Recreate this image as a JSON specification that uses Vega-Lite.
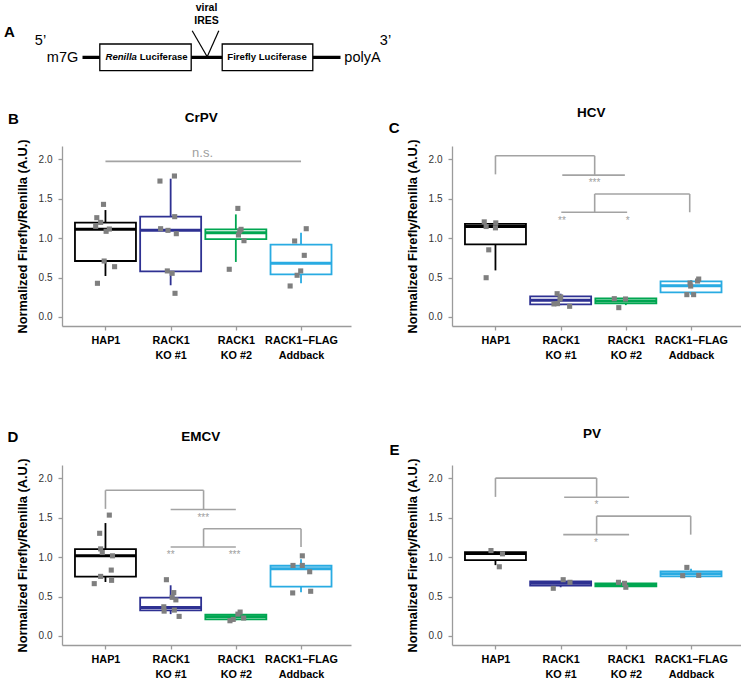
{
  "$schema": "https://vega.github.io/schema/vega-lite/v6.json",
  "padding": {"left": 4, "top": 0, "right": 0, "bottom": 0},
  "background": "white",
  "config": {
    "view": {"stroke": null},
    "font": "Liberation Sans",
    "axis": {"grid": false, "domainColor": "#9b9b9b", "tickColor": "#9b9b9b", "domainWidth": 1.3, "tickWidth": 1.3, "tickSize": 4},
    "axisY": {"labelFontSize": 10, "labelColor": "#333333", "labelPadding": 6, "titleFontSize": 12.8, "titleFontWeight": "bold", "titleColor": "#000000", "titlePadding": 9},
    "axisX": {"labelFontSize": 10.8, "labelFontWeight": "bold", "labelColor": "#000000", "labelLineHeight": 15, "labelPadding": 4}
  },
  "datasets": {
    "dg": [
      {"k": "line", "x": 78, "x2": 336, "y": 57.3, "y2": 57.3},
      {"k": "box", "x": 95.3, "x2": 186.7, "y": 44, "y2": 70.7},
      {"k": "box", "x": 217.7, "x2": 308.3, "y": 44, "y2": 70.7},
      {"k": "v", "x": 187.7, "x2": 202.7, "y": 30.7, "y2": 56.7},
      {"k": "v", "x": 214.3, "x2": 202.7, "y": 30.7, "y2": 56.7},
      {"k": "big", "x": 5, "y": 32, "t": "A"},
      {"k": "end", "x": 36, "y": 41, "t": "5’"},
      {"k": "end", "x": 58, "y": 58, "t": "m7G"},
      {"k": "end", "x": 358, "y": 57.5, "t": "polyA"},
      {"k": "end", "x": 381, "y": 41, "t": "3’"},
      {"k": "ires", "x": 202, "y": 7.5, "t": "viral"},
      {"k": "ires", "x": 202, "y": 21, "t": "IRES"},
      {"k": "it", "x": 101, "y": 57.3, "t": "Renilla"},
      {"k": "lbl", "x": 135.2, "y": 57.3, "t": "Luciferase"},
      {"k": "lbl2", "x": 262.5, "y": 57.3, "t": "Firefly Luciferase"}
    ],
    "d": [
      {"k": "h", "panel": "B", "x": 2.47, "y": 2.525, "t": "CrPV"},
      {"k": "h", "panel": "C", "x": 2.47, "y": 2.589, "t": "HCV"},
      {"k": "h", "panel": "D", "x": 2.46, "y": 2.529, "t": "EMCV"},
      {"k": "h", "panel": "E", "x": 2.48, "y": 2.561, "t": "PV"},
      {"k": "l", "panel": "B", "x": -0.413, "y": 2.51, "t": "B"},
      {"k": "l", "panel": "C", "x": -0.553, "y": 2.4, "t": "C"},
      {"k": "l", "panel": "D", "x": -0.42, "y": 2.53, "t": "D"},
      {"k": "l", "panel": "E", "x": -0.55, "y": 2.36, "t": "E"},

      {"k": "b", "panel": "B", "gi": 1, "lo": 0.52, "q1": 0.71, "med": 1.112, "q3": 1.197, "hi": 1.357},
      {"k": "b", "panel": "B", "gi": 2, "lo": 0.402, "q1": 0.579, "med": 1.099, "q3": 1.273, "hi": 1.755},
      {"k": "b", "panel": "B", "gi": 3, "lo": 0.698, "q1": 0.989, "med": 1.07, "q3": 1.112, "hi": 1.302},
      {"k": "b", "panel": "B", "gi": 4, "lo": 0.427, "q1": 0.541, "med": 0.681, "q3": 0.918, "hi": 1.07},
      {"k": "b", "panel": "C", "gi": 1, "lo": 0.591, "q1": 0.92, "med": 1.148, "q3": 1.181, "hi": 1.19},
      {"k": "b", "panel": "C", "gi": 2, "lo": 0.15, "q1": 0.16, "med": 0.211, "q3": 0.262, "hi": 0.295},
      {"k": "b", "panel": "C", "gi": 3, "lo": 0.15, "q1": 0.173, "med": 0.203, "q3": 0.236, "hi": 0.236},
      {"k": "b", "panel": "C", "gi": 4, "lo": 0.283, "q1": 0.312, "med": 0.397, "q3": 0.451, "hi": 0.47},
      {"k": "b", "panel": "D", "gi": 1, "lo": 0.685, "q1": 0.752, "med": 1.017, "q3": 1.101, "hi": 1.433},
      {"k": "b", "panel": "D", "gi": 2, "lo": 0.277, "q1": 0.324, "med": 0.361, "q3": 0.487, "hi": 0.643},
      {"k": "b", "panel": "D", "gi": 3, "lo": 0.2, "q1": 0.21, "med": 0.244, "q3": 0.269, "hi": 0.28},
      {"k": "b", "panel": "D", "gi": 4, "lo": 0.555, "q1": 0.626, "med": 0.853, "q3": 0.891, "hi": 0.975},
      {"k": "b", "panel": "E", "gi": 1, "lo": 0.899, "q1": 0.962, "med": 1.046, "q3": 1.063, "hi": 1.07},
      {"k": "b", "panel": "E", "gi": 2, "lo": 0.618, "q1": 0.639, "med": 0.668, "q3": 0.693, "hi": 0.693},
      {"k": "b", "panel": "E", "gi": 3, "lo": 0.63, "q1": 0.63, "med": 0.651, "q3": 0.668, "hi": 0.668},
      {"k": "b", "panel": "E", "gi": 4, "lo": 0.756, "q1": 0.756, "med": 0.79, "q3": 0.819, "hi": 0.853},

      {"k": "p", "panel": "B", "gi": 1, "jx": 0.97, "v": 1.429},
      {"k": "p", "panel": "B", "gi": 1, "jx": 0.867, "v": 1.26},
      {"k": "p", "panel": "B", "gi": 1, "jx": 0.926, "v": 1.2},
      {"k": "p", "panel": "B", "gi": 1, "jx": 0.85, "v": 1.15},
      {"k": "p", "panel": "B", "gi": 1, "jx": 1.06, "v": 1.116},
      {"k": "p", "panel": "B", "gi": 1, "jx": 1.01, "v": 1.087},
      {"k": "p", "panel": "B", "gi": 1, "jx": 0.98, "v": 0.71},
      {"k": "p", "panel": "B", "gi": 1, "jx": 1.14, "v": 0.638},
      {"k": "p", "panel": "B", "gi": 1, "jx": 0.877, "v": 0.427},
      {"k": "p", "panel": "B", "gi": 2, "jx": 1.836, "v": 1.725},
      {"k": "p", "panel": "B", "gi": 2, "jx": 2.058, "v": 1.789},
      {"k": "p", "panel": "B", "gi": 2, "jx": 2.062, "v": 1.273},
      {"k": "p", "panel": "B", "gi": 2, "jx": 1.846, "v": 1.12},
      {"k": "p", "panel": "B", "gi": 2, "jx": 1.959, "v": 1.099},
      {"k": "p", "panel": "B", "gi": 2, "jx": 2.087, "v": 1.057},
      {"k": "p", "panel": "B", "gi": 2, "jx": 1.949, "v": 0.584},
      {"k": "p", "panel": "B", "gi": 2, "jx": 2.023, "v": 0.554},
      {"k": "p", "panel": "B", "gi": 2, "jx": 2.067, "v": 0.3},
      {"k": "p", "panel": "B", "gi": 3, "jx": 3.031, "v": 1.378},
      {"k": "p", "panel": "B", "gi": 3, "jx": 3.08, "v": 1.112},
      {"k": "p", "panel": "B", "gi": 3, "jx": 3.06, "v": 1.091},
      {"k": "p", "panel": "B", "gi": 3, "jx": 3.04, "v": 1.04},
      {"k": "p", "panel": "B", "gi": 3, "jx": 3.125, "v": 0.968},
      {"k": "p", "panel": "B", "gi": 3, "jx": 2.899, "v": 0.605},
      {"k": "p", "panel": "B", "gi": 4, "jx": 4.08, "v": 1.12},
      {"k": "p", "panel": "B", "gi": 4, "jx": 3.902, "v": 0.964},
      {"k": "p", "panel": "B", "gi": 4, "jx": 4.05, "v": 0.782},
      {"k": "p", "panel": "B", "gi": 4, "jx": 3.995, "v": 0.584},
      {"k": "p", "panel": "B", "gi": 4, "jx": 3.94, "v": 0.529},
      {"k": "p", "panel": "B", "gi": 4, "jx": 3.833, "v": 0.393},

      {"k": "p", "panel": "C", "gi": 1, "jx": 0.828, "v": 1.207},
      {"k": "p", "panel": "C", "gi": 1, "jx": 0.857, "v": 1.148},
      {"k": "p", "panel": "C", "gi": 1, "jx": 1.005, "v": 1.194},
      {"k": "p", "panel": "C", "gi": 1, "jx": 1.0, "v": 1.131},
      {"k": "p", "panel": "C", "gi": 1, "jx": 0.897, "v": 0.852},
      {"k": "p", "panel": "C", "gi": 1, "jx": 0.857, "v": 0.498},
      {"k": "p", "panel": "C", "gi": 2, "jx": 1.946, "v": 0.295},
      {"k": "p", "panel": "C", "gi": 2, "jx": 1.99, "v": 0.228},
      {"k": "p", "panel": "C", "gi": 2, "jx": 2.0, "v": 0.255},
      {"k": "p", "panel": "C", "gi": 2, "jx": 1.897, "v": 0.165},
      {"k": "p", "panel": "C", "gi": 2, "jx": 1.951, "v": 0.169},
      {"k": "p", "panel": "C", "gi": 2, "jx": 2.138, "v": 0.135},
      {"k": "p", "panel": "C", "gi": 3, "jx": 2.823, "v": 0.232},
      {"k": "p", "panel": "C", "gi": 3, "jx": 2.995, "v": 0.228},
      {"k": "p", "panel": "C", "gi": 3, "jx": 2.892, "v": 0.118},
      {"k": "p", "panel": "C", "gi": 4, "jx": 4.118, "v": 0.481},
      {"k": "p", "panel": "C", "gi": 4, "jx": 4.1, "v": 0.456},
      {"k": "p", "panel": "C", "gi": 4, "jx": 3.985, "v": 0.43},
      {"k": "p", "panel": "C", "gi": 4, "jx": 3.995, "v": 0.392},
      {"k": "p", "panel": "C", "gi": 4, "jx": 3.936, "v": 0.283},
      {"k": "p", "panel": "C", "gi": 4, "jx": 4.04, "v": 0.283},

      {"k": "p", "panel": "D", "gi": 1, "jx": 1.059, "v": 1.534},
      {"k": "p", "panel": "D", "gi": 1, "jx": 0.911, "v": 1.303},
      {"k": "p", "panel": "D", "gi": 1, "jx": 0.926, "v": 1.105},
      {"k": "p", "panel": "D", "gi": 1, "jx": 0.951, "v": 1.059},
      {"k": "p", "panel": "D", "gi": 1, "jx": 1.108, "v": 1.017},
      {"k": "p", "panel": "D", "gi": 1, "jx": 1.089, "v": 0.836},
      {"k": "p", "panel": "D", "gi": 1, "jx": 0.926, "v": 0.756},
      {"k": "p", "panel": "D", "gi": 1, "jx": 1.094, "v": 0.706},
      {"k": "p", "panel": "D", "gi": 1, "jx": 0.828, "v": 0.664},
      {"k": "p", "panel": "D", "gi": 2, "jx": 1.935, "v": 0.714},
      {"k": "p", "panel": "D", "gi": 2, "jx": 2.048, "v": 0.55},
      {"k": "p", "panel": "D", "gi": 2, "jx": 2.024, "v": 0.49},
      {"k": "p", "panel": "D", "gi": 2, "jx": 2.08, "v": 0.458},
      {"k": "p", "panel": "D", "gi": 2, "jx": 1.895, "v": 0.37},
      {"k": "p", "panel": "D", "gi": 2, "jx": 1.9, "v": 0.315},
      {"k": "p", "panel": "D", "gi": 2, "jx": 2.057, "v": 0.328},
      {"k": "p", "panel": "D", "gi": 2, "jx": 2.13, "v": 0.248},
      {"k": "p", "panel": "D", "gi": 3, "jx": 3.066, "v": 0.303},
      {"k": "p", "panel": "D", "gi": 3, "jx": 3.032, "v": 0.277},
      {"k": "p", "panel": "D", "gi": 3, "jx": 3.12, "v": 0.227},
      {"k": "p", "panel": "D", "gi": 3, "jx": 2.96, "v": 0.21},
      {"k": "p", "panel": "D", "gi": 3, "jx": 2.91, "v": 0.193},
      {"k": "p", "panel": "D", "gi": 4, "jx": 4.02, "v": 1.017},
      {"k": "p", "panel": "D", "gi": 4, "jx": 3.877, "v": 0.895},
      {"k": "p", "panel": "D", "gi": 4, "jx": 4.02, "v": 0.895},
      {"k": "p", "panel": "D", "gi": 4, "jx": 4.133, "v": 0.815},
      {"k": "p", "panel": "D", "gi": 4, "jx": 3.872, "v": 0.546},
      {"k": "p", "panel": "D", "gi": 4, "jx": 4.148, "v": 0.567},

      {"k": "p", "panel": "E", "gi": 1, "jx": 0.931, "v": 1.084},
      {"k": "p", "panel": "E", "gi": 1, "jx": 1.108, "v": 1.042},
      {"k": "p", "panel": "E", "gi": 1, "jx": 1.059, "v": 0.878},
      {"k": "p", "panel": "E", "gi": 2, "jx": 2.039, "v": 0.714},
      {"k": "p", "panel": "E", "gi": 2, "jx": 2.143, "v": 0.681},
      {"k": "p", "panel": "E", "gi": 2, "jx": 1.887, "v": 0.605},
      {"k": "p", "panel": "E", "gi": 3, "jx": 2.887, "v": 0.681},
      {"k": "p", "panel": "E", "gi": 3, "jx": 2.98, "v": 0.668},
      {"k": "p", "panel": "E", "gi": 3, "jx": 3.0, "v": 0.618},
      {"k": "p", "panel": "E", "gi": 4, "jx": 3.936, "v": 0.87},
      {"k": "p", "panel": "E", "gi": 4, "jx": 3.872, "v": 0.765},
      {"k": "p", "panel": "E", "gi": 4, "jx": 4.118, "v": 0.769},

      {"k": "s", "panel": "B", "x": 1, "x2": 4, "y": 1.975, "y2": 1.975},
      {"k": "s", "panel": "C", "x": 1, "x2": 1, "y": 1.81, "y2": 2.046},
      {"k": "s", "panel": "C", "x": 1, "x2": 2.522, "y": 2.046, "y2": 2.046},
      {"k": "s", "panel": "C", "x": 2.522, "x2": 2.522, "y": 2.046, "y2": 1.8},
      {"k": "s", "panel": "C", "x": 2.025, "x2": 2.985, "y": 1.8, "y2": 1.8},
      {"k": "s", "panel": "C", "x": 2.522, "x2": 3.98, "y": 1.561, "y2": 1.561},
      {"k": "s", "panel": "C", "x": 2.522, "x2": 2.522, "y": 1.561, "y2": 1.329},
      {"k": "s", "panel": "C", "x": 3.98, "x2": 3.98, "y": 1.561, "y2": 1.329},
      {"k": "s", "panel": "C", "x": 2.01, "x2": 3.02, "y": 1.329, "y2": 1.329},
      {"k": "s", "panel": "D", "x": 1, "x2": 1, "y": 1.613, "y2": 1.849},
      {"k": "s", "panel": "D", "x": 1, "x2": 2.505, "y": 1.849, "y2": 1.849},
      {"k": "s", "panel": "D", "x": 2.505, "x2": 2.505, "y": 1.849, "y2": 1.605},
      {"k": "s", "panel": "D", "x": 2.0, "x2": 3.0, "y": 1.605, "y2": 1.605},
      {"k": "s", "panel": "D", "x": 2.505, "x2": 4.0, "y": 1.361, "y2": 1.361},
      {"k": "s", "panel": "D", "x": 2.505, "x2": 2.505, "y": 1.361, "y2": 1.13},
      {"k": "s", "panel": "D", "x": 4.0, "x2": 4.0, "y": 1.361, "y2": 1.13},
      {"k": "s", "panel": "D", "x": 2.0, "x2": 3.0, "y": 1.13, "y2": 1.13},
      {"k": "s", "panel": "E", "x": 1, "x2": 1, "y": 1.765, "y2": 2.004},
      {"k": "s", "panel": "E", "x": 1, "x2": 2.552, "y": 2.004, "y2": 2.004},
      {"k": "s", "panel": "E", "x": 2.552, "x2": 2.552, "y": 2.004, "y2": 1.76},
      {"k": "s", "panel": "E", "x": 2.054, "x2": 3.05, "y": 1.76, "y2": 1.76},
      {"k": "s", "panel": "E", "x": 2.552, "x2": 3.995, "y": 1.521, "y2": 1.521},
      {"k": "s", "panel": "E", "x": 2.552, "x2": 2.552, "y": 1.521, "y2": 1.286},
      {"k": "s", "panel": "E", "x": 3.995, "x2": 3.995, "y": 1.521, "y2": 1.286},
      {"k": "s", "panel": "E", "x": 2.04, "x2": 3.05, "y": 1.286, "y2": 1.286},

      {"k": "n", "panel": "B", "x": 2.49, "y": 2.075, "t": "n.s."},
      {"k": "t", "panel": "C", "x": 2.52, "y": 1.695, "t": "***"},
      {"k": "t", "panel": "C", "x": 2.02, "y": 1.222, "t": "**"},
      {"k": "t", "panel": "C", "x": 3.03, "y": 1.222, "t": "*"},
      {"k": "t", "panel": "D", "x": 2.5, "y": 1.495, "t": "***"},
      {"k": "t", "panel": "D", "x": 2.0, "y": 1.024, "t": "**"},
      {"k": "t", "panel": "D", "x": 2.98, "y": 1.024, "t": "***"},
      {"k": "t", "panel": "E", "x": 2.55, "y": 1.658, "t": "*"},
      {"k": "t", "panel": "E", "x": 2.54, "y": 1.183, "t": "*"}
    ]
  },
  "spacing": 30,
  "vconcat": [
    {
      "width": 400,
      "height": 75,
      "data": {"name": "dg"},
      "encoding": {
        "x": {"field": "x", "type": "quantitative", "scale": {"domain": [57.5, 457.5], "nice": false, "zero": false}, "axis": null},
        "y": {"field": "y", "type": "quantitative", "scale": {"domain": [0, 75], "reverse": true, "nice": false, "zero": false}, "axis": null}
      },
      "layer": [
        {"transform": [{"filter": "datum.k == 'line'"}], "mark": {"type": "rule", "strokeWidth": 3.2, "color": "#000000"}, "encoding": {"x2": {"field": "x2"}, "y2": {"field": "y2"}}},
        {"transform": [{"filter": "datum.k == 'box'"}], "mark": {"type": "rect", "fill": "white", "stroke": "#000000", "strokeWidth": 1.3}, "encoding": {"x2": {"field": "x2"}, "y2": {"field": "y2"}}},
        {"transform": [{"filter": "datum.k == 'v'"}], "mark": {"type": "rule", "strokeWidth": 1.2, "color": "#000000"}, "encoding": {"x2": {"field": "x2"}, "y2": {"field": "y2"}}},
        {"transform": [{"filter": "datum.k == 'big'"}], "mark": {"type": "text", "fontSize": 15, "fontWeight": "bold", "color": "#000000", "baseline": "middle"}, "encoding": {"text": {"field": "t"}}},
        {"transform": [{"filter": "datum.k == 'end'"}], "mark": {"type": "text", "fontSize": 14.5, "color": "#000000", "baseline": "middle"}, "encoding": {"text": {"field": "t"}}},
        {"transform": [{"filter": "datum.k == 'ires'"}], "mark": {"type": "text", "fontSize": 10.5, "fontWeight": "bold", "color": "#000000", "baseline": "middle"}, "encoding": {"text": {"field": "t"}}},
        {"transform": [{"filter": "datum.k == 'it'"}], "mark": {"type": "text", "fontSize": 9.6, "fontWeight": "bold", "fontStyle": "italic", "align": "left", "color": "#000000", "baseline": "middle"}, "encoding": {"text": {"field": "t"}}},
        {"transform": [{"filter": "datum.k == 'lbl'"}], "mark": {"type": "text", "fontSize": 9.6, "fontWeight": "bold", "align": "left", "color": "#000000", "baseline": "middle"}, "encoding": {"text": {"field": "t"}}},
        {"transform": [{"filter": "datum.k == 'lbl2'"}], "mark": {"type": "text", "fontSize": 9.6, "fontWeight": "bold", "align": "center", "color": "#000000", "baseline": "middle"}, "encoding": {"text": {"field": "t"}}}
      ]
    },
    {
      "data": {"name": "d"},
      "columns": 2,
      "spacing": {"row": 67, "column": 37},
      "concat": [
        {
          "width": 289, "height": 180,
          "transform": [{"filter": "datum.panel == 'B'"}],
          "layer": [
            {"transform": [{"filter": "datum.k == 'b'"}], "mark": {"type": "rule", "strokeWidth": 1.8},
             "encoding": {
               "x": {"field": "gi", "type": "quantitative", "title": null, "scale": {"domain": [0.41, 4.69], "nice": false, "zero": false},
                     "axis": {"values": [1, 2, 3, 4], "labelOverlap": false, "labelFlush": false, "labelExpr": "datum.value == 1 ? 'HAP1' : datum.value == 2 ? ['RACK1', 'KO #1'] : datum.value == 3 ? ['RACK1', 'KO #2'] : ['RACK1−FLAG', 'Addback']"}},
               "y": {"field": "lo", "type": "quantitative", "title": "Normalized Firefly/Renilla (A.U.)", "scale": {"domain": [-0.115, 2.17], "nice": false, "zero": false}, "axis": {"values": [0, 0.5, 1, 1.5, 2], "format": ".1f"}},
               "y2": {"field": "hi"},
               "stroke": {"field": "gi", "type": "nominal", "scale": {"domain": [1, 2, 3, 4], "range": ["#000000", "#2E3192", "#00A651", "#29ABE2"]}, "legend": null}}},
            {"transform": [{"filter": "datum.k == 'b'"}], "mark": {"type": "bar", "width": 61, "fill": "white", "strokeWidth": 1.8},
             "encoding": {"x": {"field": "gi", "type": "quantitative", "title": null}, "y": {"field": "q1", "type": "quantitative", "title": "Normalized Firefly/Renilla (A.U.)"}, "y2": {"field": "q3"}, "stroke": {"field": "gi", "type": "nominal", "legend": null}}},
            {"transform": [{"filter": "datum.k == 'b'"}], "mark": {"type": "bar", "width": 61, "fill": null, "fillOpacity": 0, "strokeWidth": 3},
             "encoding": {"x": {"field": "gi", "type": "quantitative", "title": null}, "y": {"field": "med", "type": "quantitative", "title": "Normalized Firefly/Renilla (A.U.)"}, "y2": {"field": "med"}, "stroke": {"field": "gi", "type": "nominal", "legend": null}}},
            {"transform": [{"filter": "datum.k == 'p'"}], "mark": {"type": "square", "size": 26, "color": "#7f7f7f", "opacity": 1},
             "encoding": {"x": {"field": "jx", "type": "quantitative", "title": null}, "y": {"field": "v", "type": "quantitative", "title": "Normalized Firefly/Renilla (A.U.)"}}},
            {"transform": [{"filter": "datum.k == 's'"}], "mark": {"type": "rule", "strokeWidth": 1.6, "color": "#a3a3a3"},
             "encoding": {"x": {"field": "x", "type": "quantitative", "title": null}, "x2": {"field": "x2"}, "y": {"field": "y", "type": "quantitative", "title": "Normalized Firefly/Renilla (A.U.)"}, "y2": {"field": "y2"}}},
            {"transform": [{"filter": "datum.k == 'n'"}], "mark": {"type": "text", "fontSize": 13, "color": "#a0a0a0", "baseline": "middle"},
             "encoding": {"x": {"field": "x", "type": "quantitative", "title": null}, "y": {"field": "y", "type": "quantitative", "title": "Normalized Firefly/Renilla (A.U.)"}, "text": {"field": "t"}}},
            {"transform": [{"filter": "datum.k == 'h'"}], "mark": {"type": "text", "fontSize": 13.5, "fontWeight": "bold", "color": "#000000", "baseline": "middle"},
             "encoding": {"x": {"field": "x", "type": "quantitative", "title": null}, "y": {"field": "y", "type": "quantitative", "title": "Normalized Firefly/Renilla (A.U.)"}, "text": {"field": "t"}}},
            {"transform": [{"filter": "datum.k == 'l'"}], "mark": {"type": "text", "fontSize": 15, "fontWeight": "bold", "color": "#000000", "baseline": "middle"},
             "encoding": {"x": {"field": "x", "type": "quantitative", "title": null}, "y": {"field": "y", "type": "quantitative", "title": "Normalized Firefly/Renilla (A.U.)"}, "text": {"field": "t"}}}
          ]
        },
        {
          "width": 289, "height": 180,
          "transform": [{"filter": "datum.panel == 'C'"}],
          "layer": [
            {"transform": [{"filter": "datum.k == 'b'"}], "mark": {"type": "rule", "strokeWidth": 1.8},
             "encoding": {
               "x": {"field": "gi", "type": "quantitative", "title": null, "scale": {"domain": [0.41, 4.69], "nice": false, "zero": false},
                     "axis": {"values": [1, 2, 3, 4], "labelOverlap": false, "labelFlush": false, "labelExpr": "datum.value == 1 ? 'HAP1' : datum.value == 2 ? ['RACK1', 'KO #1'] : datum.value == 3 ? ['RACK1', 'KO #2'] : ['RACK1−FLAG', 'Addback']"}},
               "y": {"field": "lo", "type": "quantitative", "title": "Normalized Firefly/Renilla (A.U.)", "scale": {"domain": [-0.115, 2.17], "nice": false, "zero": false}, "axis": {"values": [0, 0.5, 1, 1.5, 2], "format": ".1f"}},
               "y2": {"field": "hi"},
               "stroke": {"field": "gi", "type": "nominal", "scale": {"domain": [1, 2, 3, 4], "range": ["#000000", "#2E3192", "#00A651", "#29ABE2"]}, "legend": null}}},
            {"transform": [{"filter": "datum.k == 'b'"}], "mark": {"type": "bar", "width": 61, "fill": "white", "strokeWidth": 1.8},
             "encoding": {"x": {"field": "gi", "type": "quantitative", "title": null}, "y": {"field": "q1", "type": "quantitative", "title": "Normalized Firefly/Renilla (A.U.)"}, "y2": {"field": "q3"}, "stroke": {"field": "gi", "type": "nominal", "legend": null}}},
            {"transform": [{"filter": "datum.k == 'b'"}], "mark": {"type": "bar", "width": 61, "fill": null, "fillOpacity": 0, "strokeWidth": 3},
             "encoding": {"x": {"field": "gi", "type": "quantitative", "title": null}, "y": {"field": "med", "type": "quantitative", "title": "Normalized Firefly/Renilla (A.U.)"}, "y2": {"field": "med"}, "stroke": {"field": "gi", "type": "nominal", "legend": null}}},
            {"transform": [{"filter": "datum.k == 'p'"}], "mark": {"type": "square", "size": 26, "color": "#7f7f7f", "opacity": 1},
             "encoding": {"x": {"field": "jx", "type": "quantitative", "title": null}, "y": {"field": "v", "type": "quantitative", "title": "Normalized Firefly/Renilla (A.U.)"}}},
            {"transform": [{"filter": "datum.k == 's'"}], "mark": {"type": "rule", "strokeWidth": 1.6, "color": "#a3a3a3"},
             "encoding": {"x": {"field": "x", "type": "quantitative", "title": null}, "x2": {"field": "x2"}, "y": {"field": "y", "type": "quantitative", "title": "Normalized Firefly/Renilla (A.U.)"}, "y2": {"field": "y2"}}},
            {"transform": [{"filter": "datum.k == 't'"}], "mark": {"type": "text", "fontSize": 10, "color": "#a0a0a0", "baseline": "middle"},
             "encoding": {"x": {"field": "x", "type": "quantitative", "title": null}, "y": {"field": "y", "type": "quantitative", "title": "Normalized Firefly/Renilla (A.U.)"}, "text": {"field": "t"}}},
            {"transform": [{"filter": "datum.k == 'h'"}], "mark": {"type": "text", "fontSize": 13.5, "fontWeight": "bold", "color": "#000000", "baseline": "middle"},
             "encoding": {"x": {"field": "x", "type": "quantitative", "title": null}, "y": {"field": "y", "type": "quantitative", "title": "Normalized Firefly/Renilla (A.U.)"}, "text": {"field": "t"}}},
            {"transform": [{"filter": "datum.k == 'l'"}], "mark": {"type": "text", "fontSize": 15, "fontWeight": "bold", "color": "#000000", "baseline": "middle"},
             "encoding": {"x": {"field": "x", "type": "quantitative", "title": null}, "y": {"field": "y", "type": "quantitative", "title": "Normalized Firefly/Renilla (A.U.)"}, "text": {"field": "t"}}}
          ]
        },
        {
          "width": 289, "height": 180,
          "transform": [{"filter": "datum.panel == 'D'"}],
          "layer": [
            {"transform": [{"filter": "datum.k == 'b'"}], "mark": {"type": "rule", "strokeWidth": 1.8},
             "encoding": {
               "x": {"field": "gi", "type": "quantitative", "title": null, "scale": {"domain": [0.41, 4.69], "nice": false, "zero": false},
                     "axis": {"values": [1, 2, 3, 4], "labelOverlap": false, "labelFlush": false, "labelExpr": "datum.value == 1 ? 'HAP1' : datum.value == 2 ? ['RACK1', 'KO #1'] : datum.value == 3 ? ['RACK1', 'KO #2'] : ['RACK1−FLAG', 'Addback']"}},
               "y": {"field": "lo", "type": "quantitative", "title": "Normalized Firefly/Renilla (A.U.)", "scale": {"domain": [-0.115, 2.17], "nice": false, "zero": false}, "axis": {"values": [0, 0.5, 1, 1.5, 2], "format": ".1f"}},
               "y2": {"field": "hi"},
               "stroke": {"field": "gi", "type": "nominal", "scale": {"domain": [1, 2, 3, 4], "range": ["#000000", "#2E3192", "#00A651", "#29ABE2"]}, "legend": null}}},
            {"transform": [{"filter": "datum.k == 'b'"}], "mark": {"type": "bar", "width": 61, "fill": "white", "strokeWidth": 1.8},
             "encoding": {"x": {"field": "gi", "type": "quantitative", "title": null}, "y": {"field": "q1", "type": "quantitative", "title": "Normalized Firefly/Renilla (A.U.)"}, "y2": {"field": "q3"}, "stroke": {"field": "gi", "type": "nominal", "legend": null}}},
            {"transform": [{"filter": "datum.k == 'b'"}], "mark": {"type": "bar", "width": 61, "fill": null, "fillOpacity": 0, "strokeWidth": 3},
             "encoding": {"x": {"field": "gi", "type": "quantitative", "title": null}, "y": {"field": "med", "type": "quantitative", "title": "Normalized Firefly/Renilla (A.U.)"}, "y2": {"field": "med"}, "stroke": {"field": "gi", "type": "nominal", "legend": null}}},
            {"transform": [{"filter": "datum.k == 'p'"}], "mark": {"type": "square", "size": 26, "color": "#7f7f7f", "opacity": 1},
             "encoding": {"x": {"field": "jx", "type": "quantitative", "title": null}, "y": {"field": "v", "type": "quantitative", "title": "Normalized Firefly/Renilla (A.U.)"}}},
            {"transform": [{"filter": "datum.k == 's'"}], "mark": {"type": "rule", "strokeWidth": 1.6, "color": "#a3a3a3"},
             "encoding": {"x": {"field": "x", "type": "quantitative", "title": null}, "x2": {"field": "x2"}, "y": {"field": "y", "type": "quantitative", "title": "Normalized Firefly/Renilla (A.U.)"}, "y2": {"field": "y2"}}},
            {"transform": [{"filter": "datum.k == 't'"}], "mark": {"type": "text", "fontSize": 10, "color": "#a0a0a0", "baseline": "middle"},
             "encoding": {"x": {"field": "x", "type": "quantitative", "title": null}, "y": {"field": "y", "type": "quantitative", "title": "Normalized Firefly/Renilla (A.U.)"}, "text": {"field": "t"}}},
            {"transform": [{"filter": "datum.k == 'h'"}], "mark": {"type": "text", "fontSize": 13.5, "fontWeight": "bold", "color": "#000000", "baseline": "middle"},
             "encoding": {"x": {"field": "x", "type": "quantitative", "title": null}, "y": {"field": "y", "type": "quantitative", "title": "Normalized Firefly/Renilla (A.U.)"}, "text": {"field": "t"}}},
            {"transform": [{"filter": "datum.k == 'l'"}], "mark": {"type": "text", "fontSize": 15, "fontWeight": "bold", "color": "#000000", "baseline": "middle"},
             "encoding": {"x": {"field": "x", "type": "quantitative", "title": null}, "y": {"field": "y", "type": "quantitative", "title": "Normalized Firefly/Renilla (A.U.)"}, "text": {"field": "t"}}}
          ]
        },
        {
          "width": 289, "height": 180,
          "transform": [{"filter": "datum.panel == 'E'"}],
          "layer": [
            {"transform": [{"filter": "datum.k == 'b'"}], "mark": {"type": "rule", "strokeWidth": 1.8},
             "encoding": {
               "x": {"field": "gi", "type": "quantitative", "title": null, "scale": {"domain": [0.41, 4.69], "nice": false, "zero": false},
                     "axis": {"values": [1, 2, 3, 4], "labelOverlap": false, "labelFlush": false, "labelExpr": "datum.value == 1 ? 'HAP1' : datum.value == 2 ? ['RACK1', 'KO #1'] : datum.value == 3 ? ['RACK1', 'KO #2'] : ['RACK1−FLAG', 'Addback']"}},
               "y": {"field": "lo", "type": "quantitative", "title": "Normalized Firefly/Renilla (A.U.)", "scale": {"domain": [-0.115, 2.17], "nice": false, "zero": false}, "axis": {"values": [0, 0.5, 1, 1.5, 2], "format": ".1f"}},
               "y2": {"field": "hi"},
               "stroke": {"field": "gi", "type": "nominal", "scale": {"domain": [1, 2, 3, 4], "range": ["#000000", "#2E3192", "#00A651", "#29ABE2"]}, "legend": null}}},
            {"transform": [{"filter": "datum.k == 'b'"}], "mark": {"type": "bar", "width": 61, "fill": "white", "strokeWidth": 1.8},
             "encoding": {"x": {"field": "gi", "type": "quantitative", "title": null}, "y": {"field": "q1", "type": "quantitative", "title": "Normalized Firefly/Renilla (A.U.)"}, "y2": {"field": "q3"}, "stroke": {"field": "gi", "type": "nominal", "legend": null}}},
            {"transform": [{"filter": "datum.k == 'b'"}], "mark": {"type": "bar", "width": 61, "fill": null, "fillOpacity": 0, "strokeWidth": 3},
             "encoding": {"x": {"field": "gi", "type": "quantitative", "title": null}, "y": {"field": "med", "type": "quantitative", "title": "Normalized Firefly/Renilla (A.U.)"}, "y2": {"field": "med"}, "stroke": {"field": "gi", "type": "nominal", "legend": null}}},
            {"transform": [{"filter": "datum.k == 'p'"}], "mark": {"type": "square", "size": 26, "color": "#7f7f7f", "opacity": 1},
             "encoding": {"x": {"field": "jx", "type": "quantitative", "title": null}, "y": {"field": "v", "type": "quantitative", "title": "Normalized Firefly/Renilla (A.U.)"}}},
            {"transform": [{"filter": "datum.k == 's'"}], "mark": {"type": "rule", "strokeWidth": 1.6, "color": "#a3a3a3"},
             "encoding": {"x": {"field": "x", "type": "quantitative", "title": null}, "x2": {"field": "x2"}, "y": {"field": "y", "type": "quantitative", "title": "Normalized Firefly/Renilla (A.U.)"}, "y2": {"field": "y2"}}},
            {"transform": [{"filter": "datum.k == 't'"}], "mark": {"type": "text", "fontSize": 10, "color": "#a0a0a0", "baseline": "middle"},
             "encoding": {"x": {"field": "x", "type": "quantitative", "title": null}, "y": {"field": "y", "type": "quantitative", "title": "Normalized Firefly/Renilla (A.U.)"}, "text": {"field": "t"}}},
            {"transform": [{"filter": "datum.k == 'h'"}], "mark": {"type": "text", "fontSize": 13.5, "fontWeight": "bold", "color": "#000000", "baseline": "middle"},
             "encoding": {"x": {"field": "x", "type": "quantitative", "title": null}, "y": {"field": "y", "type": "quantitative", "title": "Normalized Firefly/Renilla (A.U.)"}, "text": {"field": "t"}}},
            {"transform": [{"filter": "datum.k == 'l'"}], "mark": {"type": "text", "fontSize": 15, "fontWeight": "bold", "color": "#000000", "baseline": "middle"},
             "encoding": {"x": {"field": "x", "type": "quantitative", "title": null}, "y": {"field": "y", "type": "quantitative", "title": "Normalized Firefly/Renilla (A.U.)"}, "text": {"field": "t"}}}
          ]
        }
      ]
    }
  ]
}
